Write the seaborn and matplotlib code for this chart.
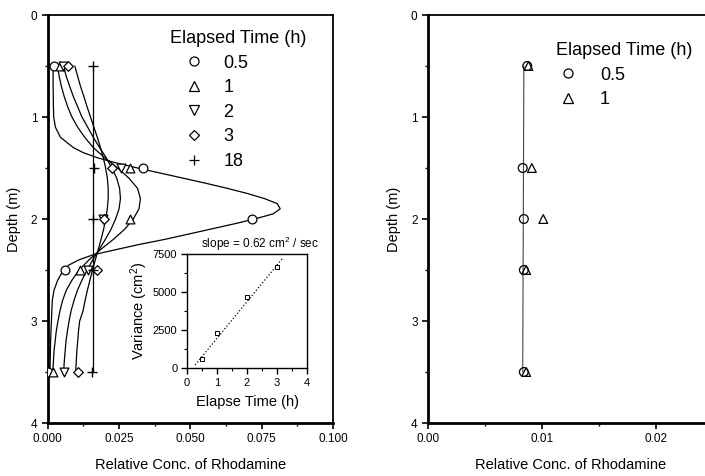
import matplotlib
matplotlib.use('Agg')
import matplotlib.pyplot as plt
import seaborn as sns
import pandas as pd
from matplotlib.lines import Line2D
from matplotlib.ticker import MultipleLocator, FormatStrFormatter

# ---------------- data ----------------
times = ['0.5', '1', '2', '3', '18']
markers = ['o', '^', 'v', 'D', '+']
depths = [0.5, 1.5, 2.0, 2.5, 3.5]

obs_05 = [0.0022, 0.0334, 0.0717, 0.0061, 0.0002]
obs_1 = [0.0043, 0.0287, 0.0288, 0.0112, 0.0019]
obs_2 = [0.0052, 0.0257, 0.0195, 0.0141, 0.0058]
obs_3 = [0.0072, 0.0225, 0.0199, 0.0173, 0.0106]
obs_18 = [0.0158, 0.0162, 0.0160, 0.0158, 0.0156]

# fitted profile curves
curve_depth_05 = [0.5, 0.7, 0.9, 1.0, 1.1, 1.2, 1.3, 1.35, 1.4, 1.45, 1.5, 1.55, 1.6,
                  1.65, 1.7, 1.75, 1.8, 1.85, 1.9, 1.95, 2.0, 2.05, 2.1, 2.15, 2.2,
                  2.25, 2.3, 2.35, 2.4, 2.45, 2.5, 2.6, 2.7, 2.8, 3.0, 3.2, 3.5]
curve_conc_05 = [0.0019, 0.0019, 0.0020, 0.0021, 0.0027, 0.0045, 0.0090, 0.0125, 0.0175,
                 0.0240, 0.0315, 0.0395, 0.0475, 0.0555, 0.0630, 0.0700, 0.0760, 0.0805,
                 0.0815, 0.0790, 0.0725, 0.0650, 0.0570, 0.0490, 0.0410, 0.0320, 0.0240,
                 0.0160, 0.0110, 0.0075, 0.0055, 0.0035, 0.0022, 0.0016, 0.0013, 0.0010,
                 0.0008]
curve_depth = [0.5, 0.6, 0.7, 0.8, 0.9, 1.0, 1.1, 1.2, 1.3, 1.4, 1.5, 1.6, 1.7, 1.8,
               1.9, 2.0, 2.1, 2.2, 2.3, 2.4, 2.5, 2.6, 2.7, 2.8, 2.9, 3.0, 3.1, 3.2,
               3.3, 3.4, 3.5]
curve_conc_1 = [0.0035, 0.0040, 0.0048, 0.0058, 0.0070, 0.0085, 0.0105, 0.0130, 0.0160,
                0.0200, 0.0245, 0.0285, 0.0315, 0.0325, 0.0320, 0.0300, 0.0270, 0.0230,
                0.0185, 0.0145, 0.0110, 0.0085, 0.0065, 0.0052, 0.0043, 0.0036, 0.0030,
                0.0026, 0.0022, 0.0020, 0.0018]
curve_conc_2 = [0.0055, 0.0065, 0.0077, 0.0090, 0.0105, 0.0120, 0.0140, 0.0160, 0.0182,
                0.0205, 0.0225, 0.0242, 0.0252, 0.0255, 0.0250, 0.0238, 0.0222, 0.0202,
                0.0180, 0.0158, 0.0138, 0.0120, 0.0104, 0.0092, 0.0082, 0.0075, 0.0069,
                0.0064, 0.0061, 0.0058, 0.0056]
curve_conc_3 = [0.0095, 0.0105, 0.0115, 0.0127, 0.0138, 0.0150, 0.0162, 0.0174, 0.0185,
                0.0195, 0.0203, 0.0209, 0.0212, 0.0212, 0.0209, 0.0203, 0.0196, 0.0187,
                0.0177, 0.0167, 0.0157, 0.0148, 0.0139, 0.0131, 0.0124, 0.0112, 0.0108,
                0.0105, 0.0102, 0.0100, 0.0098]
curve_depth_18 = [0.5, 3.5]
curve_conc_18 = [0.0158, 0.0158]

# inset: variance vs elapsed time
inset_time = [0.5, 1.0, 2.0, 3.0]
inset_var = [600, 2300, 4700, 6650]
fit_time = [0.27, 3.2]
fit_var = [200, 7250]

# right panel
r_times = ['0.5', '1']
r_markers = ['o', '^']
r_obs_05 = [0.0087, 0.0083, 0.0084, 0.0084, 0.0084]
r_obs_1 = [0.0088, 0.0091, 0.0101, 0.0086, 0.0086]
r_line_depth = [0.5, 3.5]
r_line_conc = [0.0084, 0.0083]

# ---------------- style ----------------
sns.set_theme(style='white')
plt.rcParams['font.family'] = ['Liberation Sans', 'DejaVu Sans']
plt.rcParams['mathtext.fontset'] = 'custom'
plt.rcParams['mathtext.rm'] = 'Liberation Sans'
plt.rcParams['mathtext.it'] = 'Liberation Sans:italic'
plt.rcParams['mathtext.bf'] = 'Liberation Sans:bold'
for k in ['text.color', 'axes.labelcolor', 'xtick.color', 'ytick.color', 'axes.edgecolor']:
    plt.rcParams[k] = 'black'

W, H = 705, 476
fig = plt.figure(figsize=(W / 100, H / 100), dpi=100)


def fx(px):
    return px / W


def fy(py):
    return 1 - py / H


axL = fig.add_axes([fx(47.7), fy(423), (333 - 47.7) / W, (423 - 15) / H])
axR = fig.add_axes([fx(428), fy(423), (333 - 47.7) / W, (423 - 15) / H])
axI = fig.add_axes([fx(187), fy(368), 120 / W, 114 / H])


def style_main(ax, xmax, xmajor, xminor, fmt):
    ax.set_xlim(0, xmax)
    ax.set_ylim(4, 0)
    ax.xaxis.set_major_locator(MultipleLocator(xmajor))
    ax.xaxis.set_minor_locator(MultipleLocator(xminor))
    ax.yaxis.set_major_locator(MultipleLocator(1))
    ax.yaxis.set_minor_locator(MultipleLocator(0.5))
    ax.xaxis.set_major_formatter(FormatStrFormatter(fmt))
    ax.yaxis.set_major_formatter(FormatStrFormatter('%d'))
    ax.tick_params(which='both', direction='out', bottom=True, left=True,
                   top=False, right=False, labelsize=8.5)
    ax.tick_params(which='major', length=4, width=1.2)
    ax.tick_params(which='minor', length=2.5, width=1)
    for s in ax.spines.values():
        s.set_linewidth(1.3)
        s.set_color('black')
    ax.spines['left'].set_linewidth(2)
    ax.spines['bottom'].set_linewidth(2)
    ax.set_xlabel('Relative Conc. of Rhodamine', fontsize=10.5, labelpad=9)
    ax.set_ylabel('Depth (m)', fontsize=10.5, labelpad=7)


# ---------------- left panel ----------------
curve_rows = []
for t, dd, cc in [('0.5', curve_depth_05, curve_conc_05), ('1', curve_depth, curve_conc_1),
                  ('2', curve_depth, curve_conc_2), ('3', curve_depth, curve_conc_3),
                  ('18', curve_depth_18, curve_conc_18)]:
    for d, c in zip(dd, cc):
        curve_rows.append({'time': t, 'depth': d, 'conc': c})
df_curve = pd.DataFrame(curve_rows)
sns.lineplot(data=df_curve, x='conc', y='depth', units='time', estimator=None,
             sort=False, color='black', lw=0.9, ax=axL, legend=False)

obs = {'0.5': obs_05, '1': obs_1, '2': obs_2, '3': obs_3, '18': obs_18}
sizes = {'o': 40, '^': 40, 'v': 40, 'D': 24, '+': 60}
for t, m in zip(times, markers):
    df = pd.DataFrame({'depth': depths, 'conc': obs[t]})
    if m == '+':
        sns.scatterplot(data=df, x='conc', y='depth', marker=m, s=sizes[m],
                        color='black', linewidth=1.0, ax=axL, zorder=3)
    else:
        sns.scatterplot(data=df, x='conc', y='depth', marker=m, s=sizes[m],
                        facecolor='white', edgecolor='black', linewidth=0.9,
                        ax=axL, zorder=3)

style_main(axL, 0.1, 0.025, 0.0125, '%.3f')

handles = [Line2D([], [], marker=m, ls='', mfc='none', mec='black', mew=0.9,
                  ms=(5 if m == 'D' else 6.5), color='black') for m in markers]
legL = axL.legend(handles, times, title='Elapsed Time (h)', loc='upper left',
                  bbox_to_anchor=(fx(170), fy(30)), bbox_transform=fig.transFigure,
                  frameon=False, fontsize=13, title_fontsize=13, handlelength=2.67,
                  handletextpad=0.28, labelspacing=0.42, borderpad=0, borderaxespad=0)
legL._legend_box.align = 'left'

# ---------------- inset ----------------
axI.set_zorder(5)
sns.lineplot(x=fit_time, y=fit_var, ax=axI, color='black', lw=0.9, ls=':',
             sort=False, estimator=None)
sns.scatterplot(x=inset_time, y=inset_var, ax=axI, marker='s', s=9,
                facecolor='white', edgecolor='black', linewidth=0.7, zorder=3)
axI.set_xlim(0, 4)
axI.set_ylim(0, 7500)
axI.xaxis.set_major_locator(MultipleLocator(1))
axI.xaxis.set_minor_locator(MultipleLocator(0.5))
axI.yaxis.set_major_locator(MultipleLocator(2500))
axI.yaxis.set_minor_locator(MultipleLocator(1250))
axI.tick_params(which='both', direction='out', bottom=True, left=True,
                labelsize=8, pad=3)
axI.tick_params(which='major', length=4, width=1)
axI.tick_params(which='minor', length=2, width=0.8)
for s in axI.spines.values():
    s.set_linewidth(1.0)
    s.set_color('black')
axI.set_xlabel('Elapse Time (h)', fontsize=10.5, labelpad=5)
axI.set_ylabel('Variance (cm$^2$)', fontsize=10.5, labelpad=2)
axI.text(0.61, 1.085, 'slope = 0.62 cm$^2$ / sec', transform=axI.transAxes,
         ha='center', va='center', fontsize=8.5)

# ---------------- right panel ----------------
sns.lineplot(x=r_line_conc, y=r_line_depth, ax=axR, color='#444444', lw=0.8,
             sort=False, estimator=None)
r_obs = {'0.5': r_obs_05, '1': r_obs_1}
for t, m in zip(r_times, r_markers):
    sns.scatterplot(x=r_obs[t], y=depths, ax=axR, marker=m, s=40,
                    facecolor='none', edgecolor='black', linewidth=0.9, zorder=3)
style_main(axR, 0.025, 0.01, 0.005, '%.2f')
handlesR = [Line2D([], [], marker=m, ls='', mfc='none', mec='black', mew=0.9,
                   ms=6.5) for m in r_markers]
legR = axR.legend(handlesR, r_times, title='Elapsed Time (h)', loc='upper left',
                  bbox_to_anchor=(fx(556), fy(42)), bbox_transform=fig.transFigure,
                  frameon=False, fontsize=13, title_fontsize=13, handlelength=1.33,
                  handletextpad=1.1, labelspacing=0.42, borderpad=0, borderaxespad=0)
legR._legend_box.align = 'left'

fig.savefig('out.png', dpi=100)
